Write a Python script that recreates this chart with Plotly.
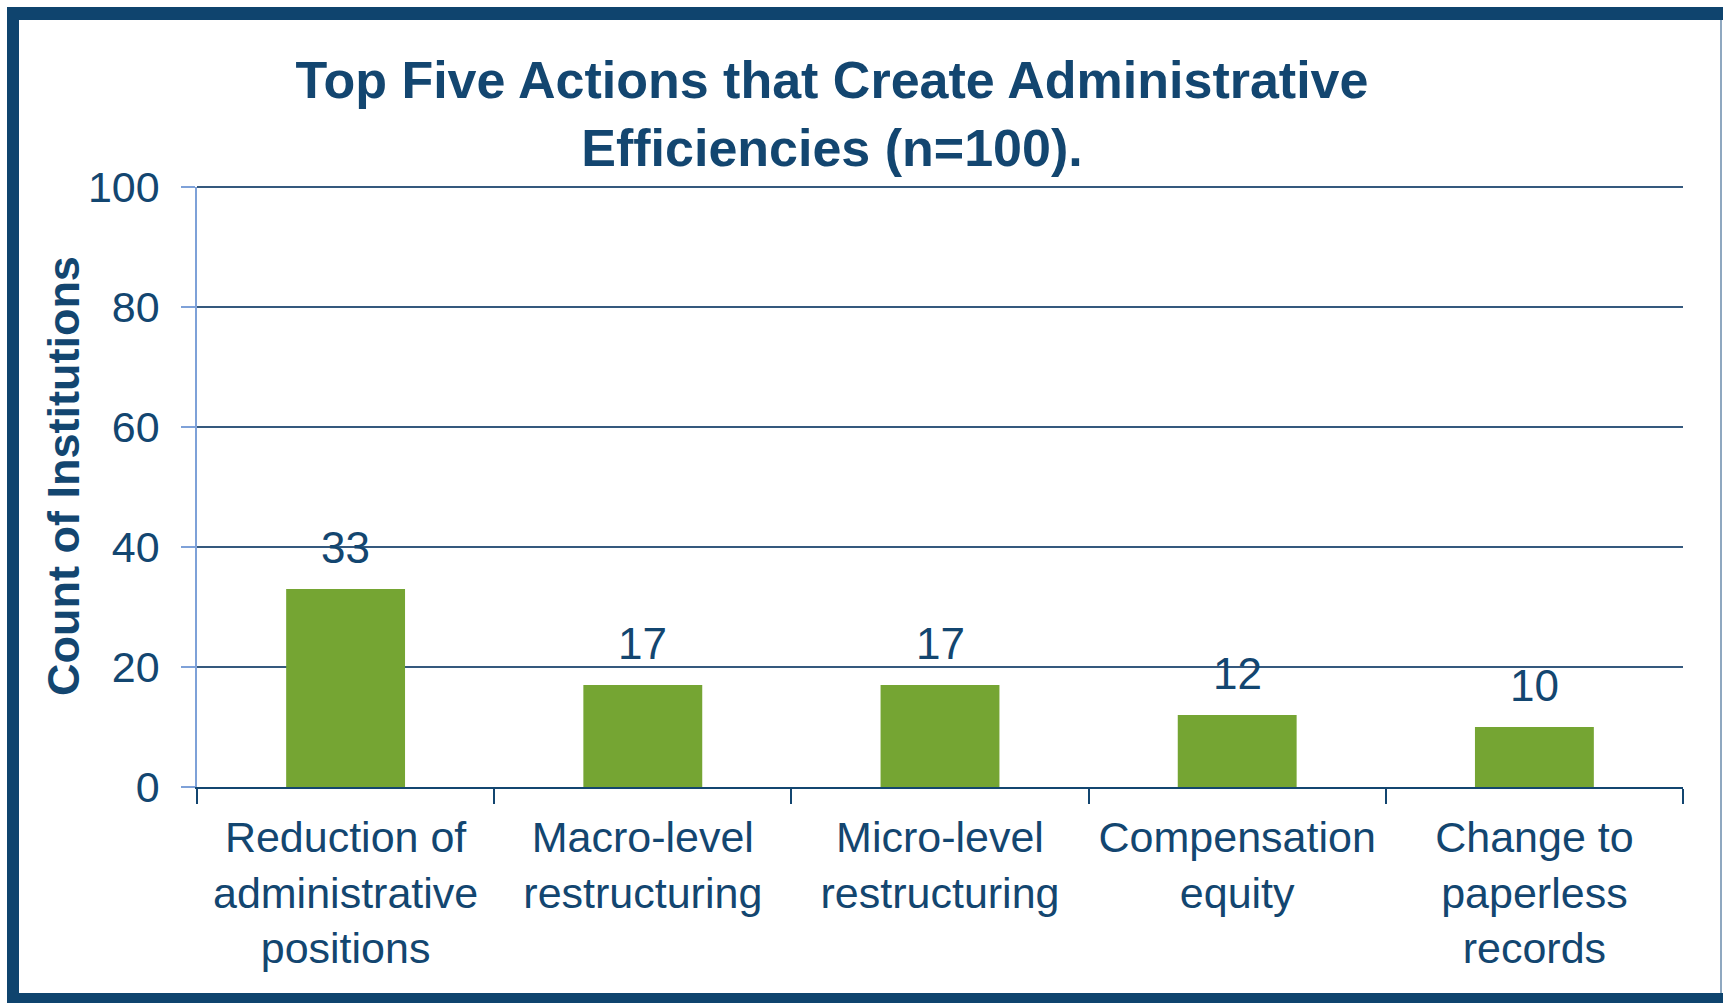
import plotly.graph_objects as go

# ---- data ----
categories = [
    "Reduction of<br>administrative<br>positions",
    "Macro-level<br>restructuring",
    "Micro-level<br>restructuring",
    "Compensation<br>equity",
    "Change to<br>paperless<br>records",
]
counts = [33, 17, 17, 12, 10]
y_ticks = [0, 20, 40, 60, 80, 100]
y_range = [0, 100]
title_text = "Top Five Actions that Create Administrative<br>Efficiencies (n=100)."
y_title = "Count of Institutions"

# ---- style ----
W, H = 1723, 1003
ML, MR, MT, MB = 197, 40, 187, 216
NAVY = "#134670"
BORDER = "#0F446E"
GRID = "#35597E"
YAXIS = "#7EA1D8"
BAR = "#75A533"
FONT = "Liberation Sans, Arial, sans-serif"

pw = W - ML - MR
ph = H - MT - MB


def px_x(px):
    return (px - ML) / pw


def px_y(py):
    return (H - MB - py) / ph


fig = go.Figure()
fig.add_trace(go.Bar(
    x=categories, y=counts, marker=dict(color=BAR, line=dict(width=0)),
    hoverinfo="x+y",
))

for c, v in zip(categories, counts):
    fig.add_annotation(x=c, y=v, text=str(v), showarrow=False,
                       yanchor="bottom", yshift=15,
                       font=dict(family=FONT, size=44, color=NAVY))

# y-axis title
fig.add_annotation(xref="paper", yref="paper", x=px_x(63), y=px_y(476),
                   text=y_title, textangle=-90, showarrow=False,
                   xanchor="center", yanchor="middle",
                   font=dict(family=FONT, size=45, color=NAVY, weight="bold"))

top_grid = (y_ticks[-1] - y_range[0]) / (y_range[1] - y_range[0])

shapes = [
    # gridline at the top edge of the value range (not clipped)
    dict(type="line", xref="paper", yref="paper", x0=0, x1=1, y0=top_grid, y1=top_grid,
         line=dict(color=GRID, width=2), layer="below"),
    # top bar
    dict(type="rect", xref="paper", yref="paper", x0=px_x(7), x1=px_x(1723), y0=px_y(7), y1=px_y(20),
         fillcolor=BORDER, line=dict(width=0), layer="above"),
    # left bar
    dict(type="rect", xref="paper", yref="paper", x0=px_x(7), x1=px_x(19), y0=px_y(7), y1=px_y(1003),
         fillcolor=BORDER, line=dict(width=0), layer="above"),
    # bottom bar
    dict(type="rect", xref="paper", yref="paper", x0=px_x(7), x1=px_x(1723), y0=px_y(993), y1=px_y(1003),
         fillcolor=BORDER, line=dict(width=0), layer="above"),
    # right thin line
    dict(type="line", xref="paper", yref="paper", x0=px_x(1721), x1=px_x(1721), y0=px_y(20), y1=px_y(993),
         line=dict(color="#8FA8C0", width=2), layer="above"),
]

fig.update_layout(
    width=W, height=H,
    margin=dict(l=ML, r=MR, t=MT, b=MB, pad=0),
    paper_bgcolor="white", plot_bgcolor="white",
    bargap=0.6,
    showlegend=False,
    shapes=shapes,
    font=dict(family=FONT, color=NAVY),
    title=dict(text=title_text, x=832 / W, xref="container", xanchor="center",
               y=1 - 98 / H, yref="container", yanchor="middle",
               font=dict(family=FONT, size=52, color=NAVY, weight="bold")),
    xaxis=dict(
        showline=True, linecolor=NAVY, linewidth=2,
        ticks="outside", tickson="boundaries", ticklen=15, tickwidth=1.5, tickcolor=NAVY,
        tickfont=dict(family=FONT, size=43, color=NAVY),
        ticklabelstandoff=11,
        showgrid=False, zeroline=False, fixedrange=True,
    ),
    yaxis=dict(
        range=y_range, tickvals=y_ticks,
        showline=True, linecolor=YAXIS, linewidth=1.5,
        ticks="outside", ticklen=14, tickwidth=1.5, tickcolor=YAXIS,
        tickfont=dict(family=FONT, size=43, color=NAVY),
        ticklabelstandoff=13,
        showgrid=True, gridcolor=GRID, gridwidth=2, zeroline=False,
        fixedrange=True,
    ),
)

fig.write_html("out.html", config={"displayModeBar": False},
               post_script="document.body.style.margin='0';document.body.style.overflow='hidden';")
